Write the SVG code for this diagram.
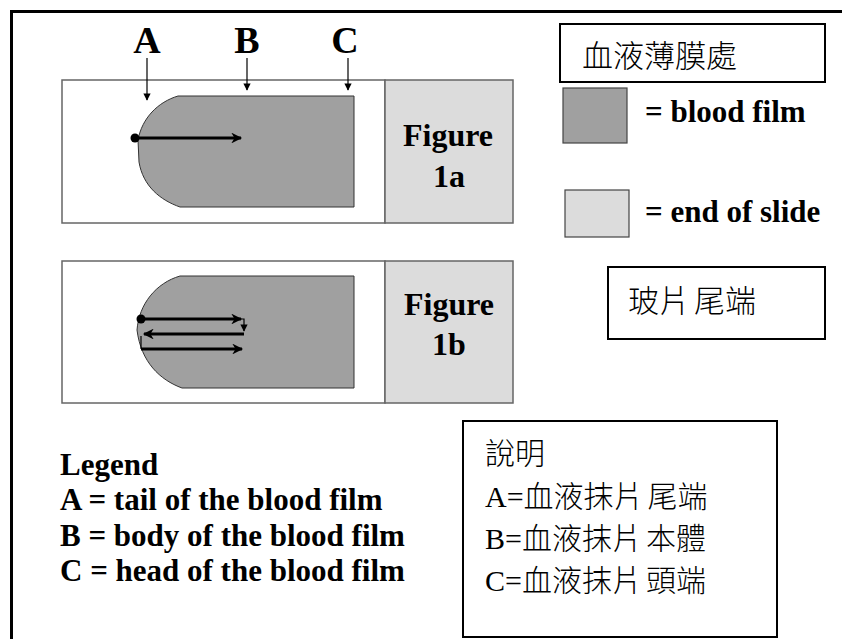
<svg xmlns="http://www.w3.org/2000/svg" width="842" height="639" viewBox="0 0 842 639">
<style>
.bold{font-family:"Liberation Serif","Times New Roman",serif;font-weight:bold;fill:#000}
.cjk{font-family:"Liberation Serif","Noto Sans CJK TC",serif;font-weight:300;fill:#000}
.slide{fill:#fff;stroke:#666;stroke-width:1.5}
.end{fill:#dcdcdc;stroke:#666;stroke-width:1.5}
.film{fill:#a0a0a0;stroke:#333;stroke-width:1}
.box{fill:#fff;stroke:#000;stroke-width:2}
.thick{stroke:#000;stroke-width:3;fill:none}
.thin{stroke:#000;stroke-width:1.2;fill:none}
</style>
<defs>
<marker id="ah" viewBox="0 0 10 10" refX="9" refY="5" markerWidth="4.5" markerHeight="3.6" orient="auto" markerUnits="strokeWidth">
<path d="M0,0 L10,5 L0,10 L3,5 Z" fill="#000"/>
</marker>
<marker id="ahs" viewBox="0 0 10 10" refX="9" refY="5" markerWidth="7" markerHeight="6" orient="auto" markerUnits="strokeWidth">
<path d="M0,0 L10,5 L0,10 Z" fill="#000"/>
</marker>
</defs>
<rect width="842" height="639" fill="#fff"/>
<path d="M11.5,639 V11.5 H842" fill="none" stroke="#000" stroke-width="3"/>

<g id="slide-1a">
<rect class="slide" x="62" y="80" width="323" height="143"/>
<rect class="end" x="385" y="80" width="128" height="143"/>
<path class="film" d="M178,96 L354,96 L354,207 L180,207 C160,200 143,186 139,162 L138,140 C142,118 158,102 178,96 Z"/>
<text class="bold" x="448" y="146" font-size="32" text-anchor="middle">Figure</text>
<text class="bold" x="449" y="187" font-size="32" text-anchor="middle">1a</text>
</g>

<g id="slide-1b">
<rect class="slide" x="62" y="261" width="323" height="142"/>
<rect class="end" x="385" y="261" width="128" height="142"/>
<path class="film" d="M180,276 L354,276 L354,388 L182,388 C160,380 141,362 137,330 C139,304 156,283 180,276 Z"/>
<text class="bold" x="449" y="315" font-size="32" text-anchor="middle">Figure</text>
<text class="bold" x="449" y="355" font-size="32" text-anchor="middle">1b</text>
</g>

<g id="labels-abc">
<text class="bold" x="147" y="53" font-size="38" text-anchor="middle">A</text>
<text class="bold" x="247" y="53" font-size="38" text-anchor="middle">B</text>
<text class="bold" x="345" y="53" font-size="38" text-anchor="middle">C</text>
</g>

<g id="connectors">
<line class="thin" x1="147" y1="58" x2="147" y2="100" marker-end="url(#ahs)"/>
<line class="thin" x1="247" y1="58" x2="247" y2="90" marker-end="url(#ahs)"/>
<line class="thin" x1="348" y1="58" x2="348" y2="90" marker-end="url(#ahs)"/>
<circle cx="135" cy="138" r="4.5" fill="#000"/>
<line class="thick" x1="135" y1="138" x2="241" y2="138" marker-end="url(#ah)"/>
<circle cx="141" cy="319" r="4.5" fill="#000"/>
<line class="thick" x1="141" y1="319" x2="241" y2="319" marker-end="url(#ah)"/>
<polyline class="thin" points="238,319 244,319 244,331" marker-end="url(#ahs)"/>
<line class="thick" x1="244" y1="334" x2="144" y2="334" marker-end="url(#ah)"/>
<polyline class="thin" points="141,336 141,349"/>
<line class="thick" x1="141" y1="349" x2="242" y2="349" marker-end="url(#ah)"/>
</g>

<g id="box-film-cn">
<rect class="box" x="560" y="24" width="265" height="58"/>
<text class="cjk" x="582" y="67" font-size="31">血液薄膜處</text>
</g>

<g id="key-film">
<rect x="563" y="88" width="64" height="55" fill="#a0a0a0" stroke="#444" stroke-width="1.2"/>
<text class="bold" x="645" y="122" font-size="31">= blood film</text>
</g>

<g id="key-end">
<rect x="565" y="190" width="64" height="47" fill="#dcdcdc" stroke="#444" stroke-width="1.2"/>
<text class="bold" x="645" y="222" font-size="31">= end of slide</text>
</g>

<g id="box-end-cn">
<rect class="box" x="608" y="267" width="217" height="72"/>
<text class="cjk" x="628" y="312" font-size="31">玻片<tspan dx="4">尾端</tspan></text>
</g>

<g id="legend">
<text class="bold" x="60" y="475" font-size="31">Legend</text>
<text class="bold" x="60" y="510" font-size="31">A = tail of the blood film</text>
<text class="bold" x="60" y="546" font-size="31">B = body of the blood film</text>
<text class="bold" x="60" y="581" font-size="31">C = head of the blood film</text>
</g>

<g id="legend-cn">
<rect class="box" x="463" y="421" width="314" height="216"/>
<text class="cjk" x="485" y="464" font-size="30">說明</text>
<text class="cjk" x="485" y="507" font-size="30">A=血液抹片<tspan dx="4">尾端</tspan></text>
<text class="cjk" x="485" y="549" font-size="30">B=血液抹片<tspan dx="4">本體</tspan></text>
<text class="cjk" x="485" y="591" font-size="30">C=血液抹片<tspan dx="4">頭端</tspan></text>
</g>
</svg>
